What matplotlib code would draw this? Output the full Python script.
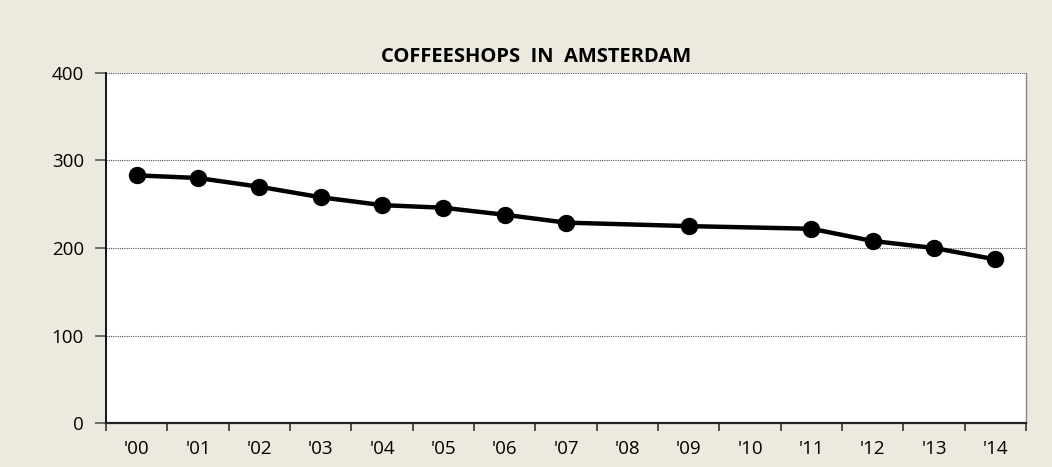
import matplotlib
matplotlib.use("Agg")
import matplotlib.pyplot as plt

# Coffeeshops in Amsterdam, aantal per jaar
jaren = ["'00", "'01", "'02", "'03", "'04", "'05", "'06", "'07",
         "'08", "'09", "'10", "'11", "'12", "'13", "'14"]
meet_jaren = ["'00", "'01", "'02", "'03", "'04", "'05", "'06", "'07",
              "'09", "'11", "'12", "'13", "'14"]
aantal = [283, 280, 270, 258, 249, 246, 238, 229, 225, 222, 208, 200, 187]

plt.rcParams['font.family'] = ['Open Sans', 'DejaVu Sans']

fig = plt.figure(figsize=(10.52, 4.67), dpi=100, facecolor="#ECE9DF")
ax = fig.add_axes([0.1008, 0.0942, 0.8745, 0.7495])
ax.set_facecolor("white")

x = [jaren.index(j) for j in meet_jaren]
ax.plot(x, aantal, color="black", linewidth=3.2, marker="o", markersize=11.5, zorder=3)

ax.set_xlim(-0.5, len(jaren) - 0.5)
ax.set_ylim(0, 400)
ax.set_yticks([0, 100, 200, 300, 400])
ax.set_xticks([i - 0.5 for i in range(len(jaren) + 1)])
ax.set_xticklabels([])
ax.set_xticks(range(len(jaren)), minor=True)
ax.set_xticklabels(jaren, minor=True)
ax.tick_params(axis="x", which="major", length=6, width=1.2, direction="out", color="#333333")
ax.tick_params(axis="x", which="minor", length=0, labelsize=13.5, pad=12)
ax.tick_params(axis="y", length=8, width=1.2, color="#555555", labelsize=13.5, pad=8)

for y in [100, 200, 300, 400]:
    ax.axhline(y, color="#555555", linestyle=(0, (1, 1)), linewidth=0.8, zorder=1)

ax.spines["left"].set_color("black")
ax.spines["left"].set_linewidth(1.3)
ax.spines["bottom"].set_color("#222222")
ax.spines["bottom"].set_linewidth(1.6)
ax.spines["top"].set_visible(False)
ax.spines["right"].set_color("#888888")
ax.spines["right"].set_linewidth(1.0)

fig.text(0.51, 0.878, "COFFEESHOPS  IN  AMSTERDAM", fontsize=14.5, fontweight="bold",
         ha="center", va="center")

fig.savefig("out.png", dpi=100, facecolor=fig.get_facecolor())
